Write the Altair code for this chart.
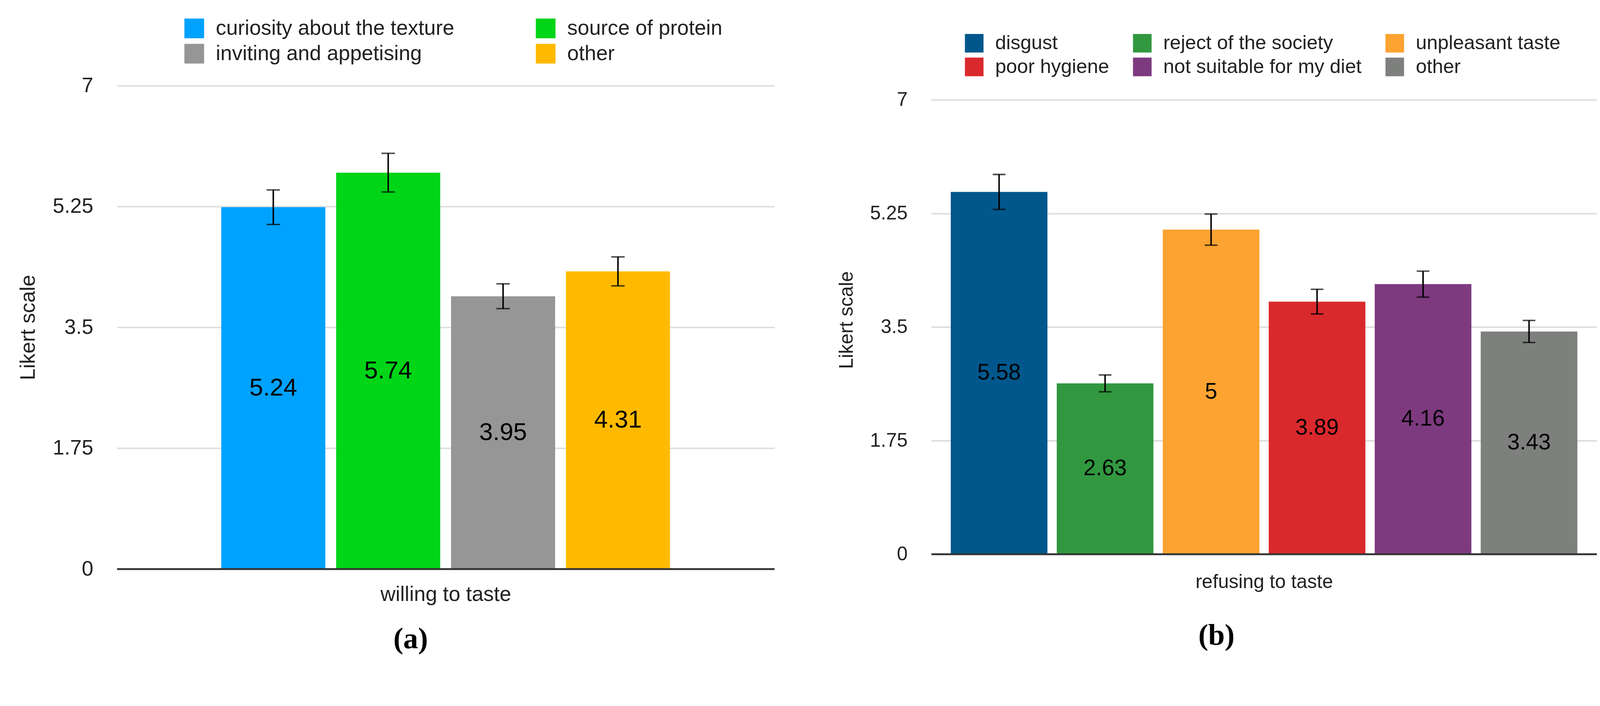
import altair as alt
import pandas as pd

# ---------------- data ----------------
a_categories = ["curiosity about the texture", "source of protein",
                "inviting and appetising", "other"]
a_values = [5.24, 5.74, 3.95, 4.31]
a_errors = [0.25, 0.28, 0.18, 0.21]
a_colors = ["#00A2FF", "#00D517", "#969696", "#FFBA00"]
a_group = "willing to taste"

b_categories = ["disgust", "reject of the society", "unpleasant taste",
                "poor hygiene", "not suitable for my diet", "other"]
b_values = [5.58, 2.63, 5.00, 3.89, 4.16, 3.43]
b_errors = [0.27, 0.13, 0.24, 0.19, 0.20, 0.17]
b_colors = ["#01578C", "#329840", "#FDA331", "#DA292C", "#7D3A7F", "#7E807E"]
b_group = "refusing to taste"

y_ticks = [0, 1.75, 3.5, 5.25, 7]
y_title = "Likert scale"

FONT = "Liberation Sans"


def make_df(cats, vals, errs):
    return pd.DataFrame({
        "category": cats,
        "value": vals,
        "lo": [v - e for v, e in zip(vals, errs)],
        "hi": [v + e for v, e in zip(vals, errs)],
        "mid": [v / 2 for v in vals],
        "label": [f"{v:g}" for v in vals],
    })


def panel(cats, vals, errs, colors, group, caption, *, width, height, ymax,
          pad_in, pad_out, fs, fs_leg, fs_bar, leg_x, leg_y, leg_cols,
          leg_colpad, leg_rowpad, sym, cap_dx, cap_off, cap_w, xt_pad):
    df = make_df(cats, vals, errs)
    x = alt.X("category:N", sort=cats,
              scale=alt.Scale(paddingInner=pad_in, paddingOuter=pad_out),
              axis=alt.Axis(labels=False, ticks=False, grid=False,
                            title=group, titleFont=FONT, titleFontSize=fs,
                            titleFontWeight="normal", titleColor="#222222",
                            titlePadding=xt_pad, domainColor="#333333",
                            domainWidth=5, zindex=1))
    yscale = alt.Scale(domain=[0, ymax], nice=False, zero=True)
    y = alt.Y("value:Q", scale=yscale,
              axis=alt.Axis(values=y_ticks, format=".3~g", title=y_title,
                            grid=True, gridColor="#DDDDDD", gridWidth=4,
                            domain=False, ticks=False, labelFont=FONT,
                            labelFontSize=fs, labelColor="#222222",
                            labelPadding=64, titleFont=FONT,
                            titleFontSize=fs, titleFontWeight="normal",
                            titleColor="#222222", titlePadding=36))
    color = alt.Color("category:N", sort=cats,
                      scale=alt.Scale(domain=cats, range=colors),
                      legend=alt.Legend(orient="none", legendX=leg_x,
                                        legendY=leg_y, columns=leg_cols,
                                        direction="horizontal",
                                        columnPadding=leg_colpad,
                                        rowPadding=leg_rowpad, title=None,
                                        padding=0, symbolType="square",
                                        symbolSize=sym * sym,
                                        symbolStrokeWidth=0,
                                        symbolOpacity=1, labelFont=FONT,
                                        labelFontSize=fs_leg,
                                        labelColor="#222222",
                                        labelOffset=30, labelLimit=2000))
    base = alt.Chart(df)
    bars = base.mark_bar().encode(x=x, y=y, color=color)
    rule = base.mark_rule(color="black", strokeWidth=4).encode(
        x=alt.X("category:N", sort=cats), y=alt.Y("lo:Q", scale=yscale),
        y2="hi:Q")
    tick_lo = base.mark_tick(color="black", size=cap_w, thickness=4).encode(
        x=alt.X("category:N", sort=cats), y=alt.Y("lo:Q", scale=yscale))
    tick_hi = base.mark_tick(color="black", size=cap_w, thickness=4).encode(
        x=alt.X("category:N", sort=cats), y=alt.Y("hi:Q", scale=yscale))
    text = base.mark_text(font=FONT, fontSize=fs_bar, color="black",
                          baseline="middle", align="center").encode(
        x=alt.X("category:N", sort=cats), y=alt.Y("mid:Q", scale=yscale),
        text="label:N")
    return alt.layer(bars, rule, tick_lo, tick_hi, text).properties(
        width=width, height=height,
        title=alt.TitleParams(caption, orient="bottom", anchor="middle",
                              font="Liberation Serif", fontSize=80,
                              fontWeight="bold", color="black", dx=cap_dx,
                              offset=cap_off))


chart_a = panel(a_categories, a_values, a_errors, a_colors, a_group, "(a)",
                width=1768, height=1300, ymax=7, pad_in=0.094, pad_out=0.908,
                fs=56, fs_leg=56, fs_bar=66, leg_x=180, leg_y=-182,
                leg_cols=2, leg_colpad=217, leg_rowpad=12, sym=53,
                cap_dx=-94, cap_off=53, cap_w=36, xt_pad=42)

b_height = 1260
b_gap = 38
chart_b = panel(b_categories, b_values, b_errors, b_colors, b_group, "(b)",
                width=1790, height=b_height,
                ymax=7 * b_height / (b_height - b_gap),
                pad_in=0.088, pad_out=0.184, fs=52, fs_leg=53, fs_bar=60,
                leg_x=89, leg_y=-141, leg_cols=3, leg_colpad=62,
                leg_rowpad=10, sym=50, cap_dx=-128, cap_off=80, cap_w=34,
                xt_pad=50)

chart = alt.hconcat(chart_a, chart_b, spacing=422, bounds="flush").resolve_scale(
    color="independent", x="independent", y="independent"
).resolve_legend(color="independent").properties(
    padding={"left": 40, "top": -3, "right": 0, "bottom": 0},
    background="white",
).configure_view(stroke=None)

chart.save("out.html", embed_options={"renderer": "svg", "actions": False})
